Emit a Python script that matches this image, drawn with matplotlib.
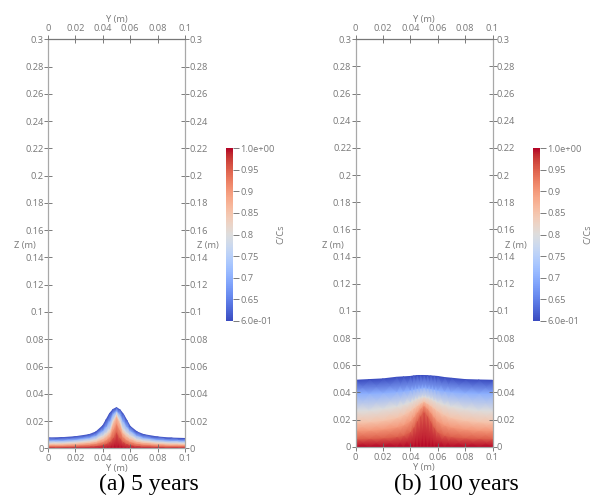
import numpy as np
from matplotlib import pyplot as plt

plt.rcParams['font.family'] = ['Open Sans', 'DejaVu Sans']

W, H = 592, 495
GREY = '#787878'

y_ticks = [0, 0.02, 0.04, 0.06, 0.08, 0.1]
y_labels = ['0', '0.02', '0.04', '0.06', '0.08', '0.1']
z_ticks = [0, 0.02, 0.04, 0.06, 0.08, 0.1, 0.12, 0.14, 0.16, 0.18, 0.2, 0.22, 0.24, 0.26, 0.28, 0.3]
z_labels = ['0', '0.02', '0.04', '0.06', '0.08', '0.1', '0.12', '0.14', '0.16', '0.18', '0.2',
            '0.22', '0.24', '0.26', '0.28', '0.3']
cb_ticks = [0.6, 0.65, 0.7, 0.75, 0.8, 0.85, 0.9, 0.95, 1.0]
cb_labels = ['6.0e-01', '0.65', '0.7', '0.75', '0.8', '0.85', '0.9', '0.95', '1.0e+00']

# stations along the width
y_pos = [0, 0.01, 0.02, 0.03, 0.035, 0.04, 0.0425, 0.045, 0.0475, 0.05,
         0.0525, 0.055, 0.0575, 0.06, 0.065, 0.07, 0.08, 0.09, 0.1]
# concentration levels, bottom to top of the plume
levels = [1.0, 0.95, 0.9, 0.85, 0.8, 0.7, 0.6]

# height of each level at each station
z_5yr = [
    [0.0000] * 19,
    [0.0012, 0.0012, 0.0014, 0.0017, 0.0020, 0.0028, 0.0036, 0.0050, 0.0080, 0.0120, 0.0080, 0.0050, 0.0036, 0.0028, 0.0020, 0.0017, 0.0014, 0.0012, 0.0012],
    [0.0022, 0.0022, 0.0025, 0.0031, 0.0037, 0.0050, 0.0063, 0.0085, 0.0140, 0.0185, 0.0140, 0.0085, 0.0063, 0.0050, 0.0037, 0.0031, 0.0025, 0.0022, 0.0022],
    [0.0031, 0.0032, 0.0036, 0.0044, 0.0052, 0.0072, 0.0090, 0.0115, 0.0190, 0.0240, 0.0190, 0.0115, 0.0090, 0.0072, 0.0052, 0.0044, 0.0036, 0.0032, 0.0031],
    [0.0041, 0.0042, 0.0047, 0.0057, 0.0068, 0.0095, 0.0115, 0.0140, 0.0210, 0.0255, 0.0210, 0.0140, 0.0115, 0.0095, 0.0068, 0.0057, 0.0047, 0.0042, 0.0040],
    [0.0058, 0.0059, 0.0065, 0.0078, 0.0094, 0.0130, 0.0160, 0.0200, 0.0255, 0.0275, 0.0250, 0.0200, 0.0160, 0.0130, 0.0094, 0.0078, 0.0064, 0.0058, 0.0056],
    [0.0076, 0.0078, 0.0085, 0.0100, 0.0120, 0.0165, 0.0210, 0.0255, 0.0285, 0.0298, 0.0282, 0.0250, 0.0205, 0.0160, 0.0120, 0.0100, 0.0083, 0.0075, 0.0072],
]
z_100yr = [
    [0.0000] * 19,
    [0.0060, 0.0062, 0.0066, 0.0075, 0.0085, 0.0110, 0.0145, 0.0190, 0.0230, 0.0260, 0.0230, 0.0190, 0.0145, 0.0110, 0.0085, 0.0075, 0.0066, 0.0062, 0.0060],
    [0.0120, 0.0122, 0.0130, 0.0145, 0.0160, 0.0190, 0.0220, 0.0255, 0.0285, 0.0305, 0.0285, 0.0255, 0.0220, 0.0190, 0.0160, 0.0145, 0.0130, 0.0122, 0.0120],
    [0.0180, 0.0184, 0.0195, 0.0215, 0.0235, 0.0265, 0.0285, 0.0305, 0.0322, 0.0335, 0.0322, 0.0305, 0.0285, 0.0265, 0.0235, 0.0215, 0.0195, 0.0184, 0.0180],
    [0.0265, 0.0268, 0.0280, 0.0298, 0.0312, 0.0330, 0.0343, 0.0355, 0.0364, 0.0370, 0.0364, 0.0355, 0.0343, 0.0330, 0.0312, 0.0298, 0.0280, 0.0268, 0.0265],
    [0.0392, 0.0394, 0.0398, 0.0405, 0.0410, 0.0418, 0.0423, 0.0428, 0.0432, 0.0436, 0.0432, 0.0428, 0.0423, 0.0418, 0.0410, 0.0405, 0.0398, 0.0394, 0.0392],
    [0.0490, 0.0495, 0.0500, 0.0512, 0.0515, 0.0518, 0.0522, 0.0525, 0.0525, 0.0525, 0.0524, 0.0522, 0.0520, 0.0518, 0.0510, 0.0505, 0.0495, 0.0492, 0.0490],
]

panels = [
    (48, 448.3, z_5yr, '(a) 5 years', 149, 225.5),
    (355.5, 446.8, z_100yr, '(b) 100 years', 456, 533),
]


def px_axes(fig, x0, y0, x1, y1):
    # pixel box, y measured from the top of the image
    return fig.add_axes([x0 / W, 1 - y1 / H, (x1 - x0) / W, (y1 - y0) / H])


def plot_panel(fig, x0, y1, zs, caption, cap_x, cb_x):
    ax = px_axes(fig, x0, 39.3, x0 + 137, y1)
    Y = np.tile(y_pos, (len(levels), 1))
    Z = np.array(zs)
    C = np.tile(np.array(levels)[:, None], (1, len(y_pos)))
    pc = ax.pcolormesh(Y, Z, C, cmap='coolwarm', vmin=0.6, vmax=1.0, shading='gouraud', zorder=1)

    ax.set_xlim(0, 0.1)
    ax.set_ylim(0, 0.3)
    ax.set_xticks(y_ticks, y_labels)
    ax.set_yticks(z_ticks, z_labels)
    ax.tick_params(which='major', direction='inout', length=5.5, width=0.6, color='#666666',
                   labelcolor=GREY, labelsize=6.7, pad=0.3,
                   top=True, right=True, labeltop=True, labelright=True)
    ax.tick_params(axis='x', pad=1.6)
    for s in ax.spines.values():
        s.set_color('#a8a8a8')
        s.set_linewidth(0.9)
        s.set_zorder(3)
    ax.spines['top'].set_color('#777777')
    ax.set_axisbelow(False)

    ax.text(0.5, 1.049, 'Y (m)', transform=ax.transAxes, ha='center', va='center', fontsize=6.7, color=GREY)
    ax.text(0.5, -0.05, 'Y (m)', transform=ax.transAxes, ha='center', va='center', fontsize=6.7, color=GREY)
    ax.text(-0.168, 0.495, 'Z (m)', transform=ax.transAxes, ha='center', va='center', fontsize=6.7, color=GREY)
    ax.text(1.168, 0.495, 'Z (m)', transform=ax.transAxes, ha='center', va='center', fontsize=6.7, color=GREY)
    fig.text(cap_x / W, 1 - 490 / H, caption, ha='center', va='baseline', fontsize=17,
             family='Liberation Serif', color='black')

    cax = px_axes(fig, cb_x, 148.3, cb_x + 7, 320.8)
    cb = fig.colorbar(pc, cax=cax)
    cb.set_ticks(cb_ticks, labels=cb_labels)
    cb.ax.tick_params(length=4.3, width=0.6, color='#666666', labelcolor=GREY, labelsize=6.7, pad=1.2)
    cb.outline.set_visible(False)
    fig.text((cb_x + 55) / W, 1 - 234.5 / H, 'C/Cs', rotation=90, ha='center', va='center',
             fontsize=6.7, color=GREY)


if __name__ == '__main__':
    fig = plt.figure(figsize=(W / 100, H / 100), dpi=100)
    for x0, y1, zs, caption, cap_x, cb_x in panels:
        plot_panel(fig, x0, y1, zs, caption, cap_x, cb_x)
    fig.savefig('out.png', dpi=100)
